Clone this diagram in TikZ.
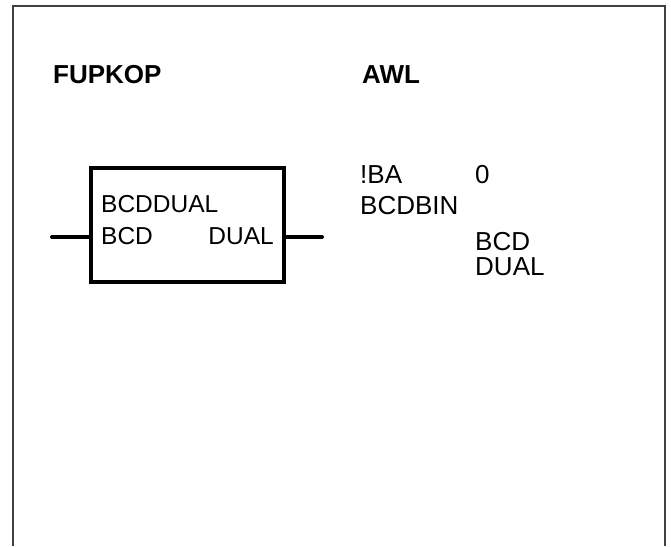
\documentclass[tikz,border=0pt]{standalone}
\usepackage{fontspec}
\setmainfont{Liberation Sans}
\usepackage{tikz}
\usetikzlibrary{positioning,calc}

\tikzset{
  txt/.style={inner sep=0pt, anchor=base west, font=\fontsize{26}{30}\selectfont},
  hdr/.style={txt, font=\fontsize{26}{30}\selectfont\bfseries},
  blktxt/.style={txt, font=\fontsize{24.5}{30}\selectfont},
  fbox/.style={draw, line width=4pt, minimum width=193pt, minimum height=114pt, inner sep=0pt},
  lead/.style={line width=4pt, line cap=round}
}

\begin{document}
\begin{tikzpicture}[x=1pt, y=-1pt]
  \useasboundingbox (0,0) rectangle (671,546);
  % Frame (open at the bottom)
  \draw[line width=1.6pt, black!75] (13,546) -- (13,6) -- (665,6) -- (665,546);

  % Headings
  \node[hdr] (fupkop) at (53,83) {FUPKOP};
  \node[hdr] (awl) at (362,83) {AWL};

  % Function block (left)
  \node[fbox] (blk) at (187.5,225) {};
  \coordinate (inp) at (52,237);
  \coordinate (outp) at (322,237);
  \draw[lead] (inp) -- (blk.west |- inp);
  \draw[lead] (blk.east |- outp) -- (outp);
  \node[blktxt] (bname) at (101,212) {BCDDUAL};
  \node[blktxt] (bin) at (101,244) {BCD};
  \node[blktxt, anchor=base east] (bout) at (274,244) {DUAL};

  % Statement list (right)
  \node[txt] (ba) at (360,183) {!BA};
  \node[txt] (bazero) at (475,183) {0};
  \node[txt] (bcdbin) at (360,214) {BCDBIN};
  \node[txt] (pbcd) at (475,250) {BCD};
  \node[txt] (pdual) at (475,275) {DUAL};
\end{tikzpicture}
\end{document}
